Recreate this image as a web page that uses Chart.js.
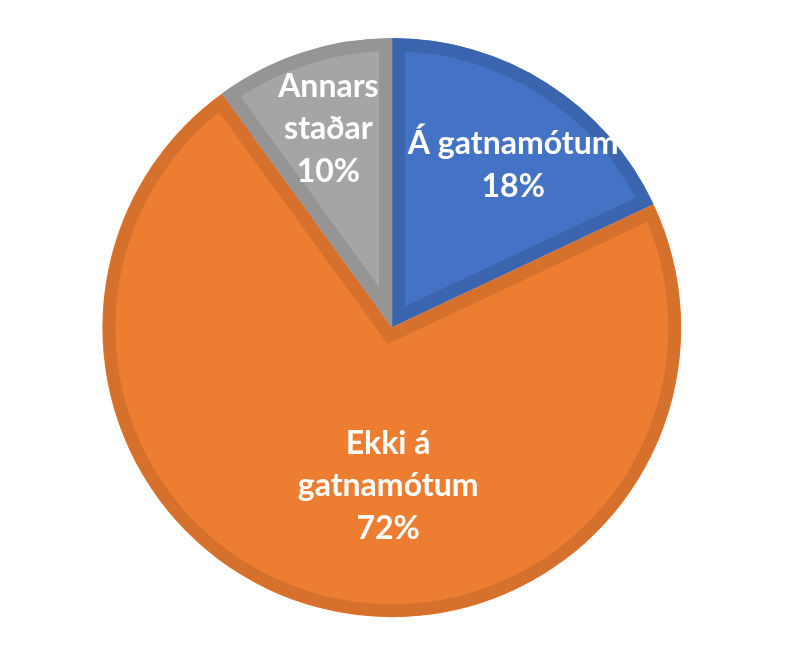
<!DOCTYPE html>
<html>
<head>
<meta charset="utf-8">
<script src="https://cdn.jsdelivr.net/npm/chart.js@4/dist/chart.umd.min.js"></script>
<style>
  html, body { margin: 0; padding: 0; background: #ffffff; }
  #wrap { position: relative; width: 800px; height: 650px; }
</style>
</head>
<body>
<div id="wrap"><canvas id="c"></canvas></div>
<script>
// ---- data ----
const categories = [['Á gatnamótum'], ['Ekki á', 'gatnamótum'], ['Annars', 'staðar']];
const values = [18, 72, 10];
const fillColors = ['#4472C4', '#ED7D31', '#A5A5A5'];
const borderColors = ['#3B65AF', '#D5702D', '#959595'];

// label placement style (fraction of radius, angle shift in degrees)
const labelStyle = {
  radiusFrac: [0.70, 0.55, 0.72],
  angleShift: [4.4, -13.0, 0.2],
  font: 'bold 32px Lato',
  lineHeight: 42.5,
  color: '#ffffff'
};

const sliceLabels = {
  id: 'sliceLabels',
  afterDatasetsDraw(chart) {
    const ctx = chart.ctx;
    const meta = chart.getDatasetMeta(0);
    const ds = chart.data.datasets[0].data;
    const total = ds.reduce((a, b) => a + b, 0);
    ctx.save();
    ctx.font = labelStyle.font;
    ctx.fillStyle = labelStyle.color;
    ctx.textAlign = 'center';
    ctx.textBaseline = 'middle';
    meta.data.forEach((arc, i) => {
      const p = arc.getProps(['x', 'y', 'startAngle', 'endAngle', 'outerRadius'], true);
      const mid = (p.startAngle + p.endAngle) / 2 + labelStyle.angleShift[i] * Math.PI / 180;
      const r = p.outerRadius * labelStyle.radiusFrac[i];
      const cx = p.x + Math.cos(mid) * r;
      const cy = p.y + Math.sin(mid) * r;
      const lines = [...chart.data.labels[i], Math.round(ds[i] / total * 100) + '%'];
      const y0 = cy - (lines.length - 1) * labelStyle.lineHeight / 2;
      lines.forEach((t, k) => ctx.fillText(t, cx, y0 + k * labelStyle.lineHeight));
    });
    ctx.restore();
  }
};

function draw() {
  new Chart(document.getElementById('c'), {
    type: 'pie',
    data: {
      labels: categories,
      datasets: [{
        data: values,
        backgroundColor: fillColors,
        borderColor: borderColors,
        borderWidth: 13,
        borderAlign: 'inner',
        borderJoinStyle: 'miter',
        offset: [0, 3, 0],
        radius: 289
      }]
    },
    options: {
      responsive: true,
      maintainAspectRatio: false,
      animation: false,
      layout: { padding: { left: 0, right: 16, top: 4, bottom: 0 } },
      plugins: {
        legend: { display: false },
        tooltip: { enabled: false },
        title: { display: false }
      }
    },
    plugins: [sliceLabels]
  });
}

if (document.fonts && document.fonts.load) {
  document.fonts.load('bold 32px Lato').then(draw, draw);
} else {
  draw();
}
</script>
</body>
</html>
